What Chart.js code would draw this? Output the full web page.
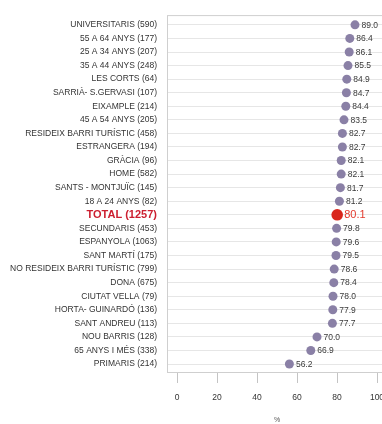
<!DOCTYPE html>
<html>
<head>
<meta charset="utf-8">
<script src="https://cdn.jsdelivr.net/npm/chart.js@4"></script>
<style>
  html, body { margin: 0; padding: 0; background: #fff; overflow: hidden; }
  #wrap { width: 382px; height: 424px; overflow: hidden; }
</style>
</head>
<body>
<div id="wrap"><canvas id="_dot_chart" width="400" height="424"></canvas></div>
<script>
const group_labels = [
    'UNIVERSITARIS (590)', '55 A 64 ANYS (177)', '25 A 34 ANYS (207)', '35 A 44 ANYS (248)',
    'LES CORTS (64)', 'SARRIÀ- S.GERVASI (107)', 'EIXAMPLE (214)', '45 A 54 ANYS (205)',
    'RESIDEIX BARRI TURÍSTIC (458)', 'ESTRANGERA (194)', 'GRÀCIA (96)', 'HOME (582)',
    'SANTS - MONTJUÏC (145)', '18 A 24 ANYS (82)', 'TOTAL (1257)', 'SECUNDARIS (453)',
    'ESPANYOLA (1063)', 'SANT MARTÍ (175)', 'NO RESIDEIX BARRI TURÍSTIC (799)', 'DONA (675)',
    'CIUTAT VELLA (79)', 'HORTA- GUINARDÓ (136)', 'SANT ANDREU (113)', 'NOU BARRIS (128)',
    '65 ANYS I MÉS (338)', 'PRIMARIS (214)'
];
const pct_values = [
    89.0, 86.4, 86.1, 85.5, 84.9, 84.7, 84.4, 83.5, 82.7, 82.7, 82.1, 82.1, 81.7,
    81.2, 80.1, 79.8, 79.6, 79.5, 78.6, 78.4, 78.0, 77.9, 77.7, 70.0, 66.9, 56.2
];
const x_ticks = [0, 20, 40, 60, 80, 100];
const total_label = 'TOTAL (1257)';

const font_family = "'Liberation Sans', Arial, sans-serif";
const dot_color = '#8a80a6';
const total_dot_color = '#d9261c';

function isTotal(i) {
    return group_labels[i] === total_label;
}

let points = [];
for (var i in pct_values) {
    points.push({x: pct_values[i], y: Number(i)});
}

// frame round the plot + value text next to each dot
const frameAndValues = {
    id: 'frameAndValues',
    afterDatasetsDraw(chart) {
        const ctx = chart.ctx;
        const a = chart.chartArea;
        ctx.save();
        ctx.strokeStyle = '#cfcfcf';
        ctx.lineWidth = 1;
        ctx.strokeRect(a.left + 0.5, a.top + 0.5, a.right - a.left - 1, a.bottom - a.top - 1);

        const meta = chart.getDatasetMeta(0);
        ctx.textBaseline = 'middle';
        ctx.textAlign = 'left';
        meta.data.forEach((pt, i) => {
            if (isTotal(i)) {
                ctx.fillStyle = '#e2392c';
                ctx.font = '11px ' + font_family;
                ctx.fillText(pct_values[i].toFixed(1), pt.x + 7, pt.y + 0.5);
            } else {
                ctx.fillStyle = '#3a3a3a';
                ctx.font = '8.5px ' + font_family;
                ctx.fillText(pct_values[i].toFixed(1), pt.x + 6.5, pt.y + 0.5);
            }
        });
        ctx.restore();
    }
};

const ctx = document.getElementById('_dot_chart');
const dot_chart = new Chart(ctx, {
    type: 'scatter',
    data: {
        datasets: [
            {
                label: '%',
                data: points,
                pointRadius: pct_values.map((v, i) => isTotal(i) ? 5.8 : 4.5),
                pointBackgroundColor: pct_values.map((v, i) => isTotal(i) ? total_dot_color : dot_color),
                pointBorderWidth: 0,
                pointHoverRadius: 5
            }
        ]
    },
    options: {
        responsive: false,
        animation: false,
        layout: {
            padding: {top: 8, right: 13, left: 0, bottom: 0}
        },
        scales: {
            x: {
                type: 'linear',
                min: -5,
                max: 105,
                afterBuildTicks: (scale) => {
                    scale.ticks = x_ticks.map(v => ({value: v}));
                },
                afterFit: (scale) => {
                    scale.height = 51;
                },
                border: {display: false},
                grid: {
                    drawOnChartArea: false,
                    drawTicks: true,
                    tickLength: 10,
                    color: '#c4c4c4'
                },
                ticks: {
                    color: '#333',
                    padding: 10,
                    maxRotation: 0,
                    font: {family: font_family, size: 8.5}
                },
                title: {
                    display: true,
                    text: '%',
                    color: '#555',
                    padding: {top: 8, bottom: 0},
                    font: {family: font_family, size: 7}
                }
            },
            y: {
                type: 'linear',
                reverse: true,
                min: -0.72,
                max: group_labels.length - 1 + 0.66,
                afterBuildTicks: (scale) => {
                    scale.ticks = group_labels.map((l, i) => ({value: i}));
                },
                afterFit: (scale) => {
                    scale.width = 167;
                },
                border: {display: false},
                grid: {
                    drawTicks: false,
                    color: '#e6e6e6'
                },
                ticks: {
                    padding: 10,
                    autoSkip: false,
                    callback: (v) => group_labels[v],
                    color: (c) => isTotal(c.index) ? '#cc1f30' : '#333',
                    font: (c) => isTotal(c.index)
                        ? {family: font_family, size: 11, weight: 'bold'}
                        : {family: font_family, size: 8.5}
                }
            }
        },
        plugins: {
            legend: {display: false},
            tooltip: {enabled: false}
        }
    },
    plugins: [frameAndValues]
});
</script>
</body>
</html>
